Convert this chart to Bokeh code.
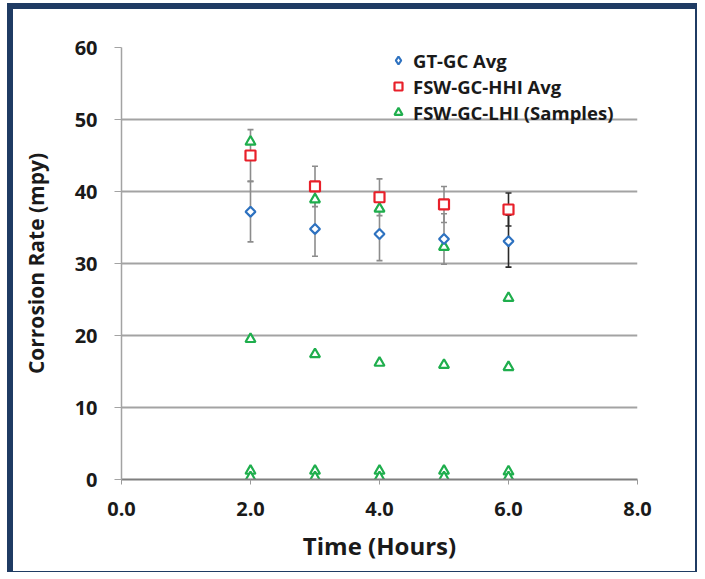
import numpy as np
from bokeh.plotting import figure
from bokeh.models import (ColumnDataSource, FixedTicker, PrintfTickFormatter,
                          Legend, LegendItem, Range1d)
from bokeh.embed import file_html
from bokeh.resources import INLINE

# Exposure time (hours)
hours = [2, 3, 4, 5, 6]

# GT-GC average corrosion rate (mpy) and error half-widths
gt_gc_avg = [37.2, 34.8, 34.1, 33.4, 33.1]
gt_gc_err = [4.2, 3.8, 3.7, 3.5, 3.6]

# FSW-GC-HHI average corrosion rate (mpy) and error half-widths
fsw_hhi_avg = [45.0, 40.7, 39.2, 38.2, 37.5]
fsw_hhi_err = [3.6, 2.8, 2.55, 2.5, 2.3]

# FSW-GC-LHI individual samples (mpy)
lhi_hours = [2, 2, 2, 2,
             3, 3, 3, 3,
             4, 4, 4, 4,
             5, 5, 5, 5,
             6, 6, 6, 6]
lhi_rate = [46.9, 19.5, 1.2, 0.3,
            38.9, 17.4, 1.2, 0.3,
            37.6, 16.2, 1.2, 0.3,
            32.3, 15.9, 1.2, 0.3,
            25.2, 15.6, 1.1, 0.3]

x_ticks = [0, 2, 4, 6, 8]
y_ticks = [0, 10, 20, 30, 40, 50, 60]

# styling
BLUE = "#2e72c0"
RED = "#e8202a"
GREEN = "#1fae4d"
NAVY = "#1f3b63"
FONT = "Open Sans"
TEXT = "#1a1a1a"
errbar_colors = ["#8c8c8c", "#8c8c8c", "#8c8c8c", "#8c8c8c", "#2a2a2a"]

p = figure(width=690, height=569, output_backend="svg", toolbar_location=None,
           x_range=Range1d(0, 8), y_range=Range1d(0, 60),
           min_border_left=108, min_border_right=66,
           min_border_top=38, min_border_bottom=99)
p.styles = {
    "margin-left": "7px", "margin-top": "3px",
    "border-left": f"6px solid {NAVY}", "border-top": f"6px solid {NAVY}",
    "border-right": f"2px solid {NAVY}", "border-bottom": f"1px solid {NAVY}",
}
p.outline_line_color = None
p.background_fill_color = "white"
p.border_fill_color = "white"

# grid
p.xgrid.grid_line_color = None
p.ygrid.grid_line_color = "#a3a3a3"
p.ygrid.grid_line_width = 2
p.ygrid.ticker = FixedTicker(ticks=y_ticks)

# axes
p.xaxis.ticker = FixedTicker(ticks=x_ticks)
p.xaxis.formatter = PrintfTickFormatter(format="%.1f")
p.yaxis.ticker = FixedTicker(ticks=y_ticks)
for ax in (p.xaxis[0], p.yaxis[0]):
    ax.minor_tick_line_color = None
    ax.major_tick_in = 0
    ax.major_label_text_font = FONT
    ax.major_label_text_font_style = "bold"
    ax.major_label_text_font_size = "20px"
    ax.major_label_text_color = TEXT
    ax.axis_label_text_font = FONT
    ax.axis_label_text_font_style = "bold"
    ax.axis_label_text_color = TEXT
p.xaxis.axis_line_color = "#7f7f7f"
p.xaxis.axis_line_width = 2
p.xaxis.major_tick_line_color = "#9a9a9a"
p.xaxis.major_tick_out = 5
p.xaxis.major_label_standoff = 17
p.xaxis.axis_label = "Time (Hours)"
p.xaxis.axis_label_text_font_size = "24px"
p.xaxis.axis_label_standoff = 10
p.yaxis.axis_line_color = "#a3a3a3"
p.yaxis.axis_line_width = 1.5
p.yaxis.major_tick_line_color = "#a3a3a3"
p.yaxis.major_tick_out = 7
p.yaxis.major_label_standoff = 17
p.yaxis.axis_label = "Corrosion Rate (mpy)"
p.yaxis.axis_label_text_font_size = "21px"
p.yaxis.axis_label_standoff = 22

# error bars: stems and caps
gt = np.array(gt_gc_avg)
gte = np.array(gt_gc_err)
hh = np.array(fsw_hhi_avg)
hhe = np.array(fsw_hhi_err)
err_src = ColumnDataSource(dict(
    x=hours + hours,
    lo=list(gt - gte) + list(hh - hhe),
    hi=list(gt + gte) + list(hh + hhe),
    c=errbar_colors + errbar_colors,
))
p.segment(x0="x", y0="lo", x1="x", y1="hi", source=err_src,
          line_color="c", line_width=1.6)
p.scatter(x="x", y="lo", source=err_src, marker="dash", size=6,
          line_color="c", line_width=1.6)
p.scatter(x="x", y="hi", source=err_src, marker="dash", size=6,
          line_color="c", line_width=1.6)

# series markers
r_lhi = p.scatter(lhi_hours, lhi_rate, marker="triangle", size=10,
                  line_color=GREEN, line_width=2.2, fill_color="white")
# GT-GC: a diamond key glyph (used by the legend) under an equal-sided
# rotated square that gives the plotted points their shape
r_gt_key = p.scatter(hours, gt_gc_avg, marker="diamond", size=8,
                     line_color=BLUE, line_width=2.2, fill_color="white")
r_gt = p.scatter(hours, gt_gc_avg, marker="square", angle=np.pi / 4, size=7,
                 line_color=BLUE, line_width=2.2, fill_color="white")
r_hhi = p.scatter(hours, fsw_hhi_avg, marker="square", size=10,
                  line_color=RED, line_width=2.2, fill_color="white")

legend = Legend(items=[
    LegendItem(label="GT-GC Avg", renderers=[r_gt_key]),
    LegendItem(label="FSW-GC-HHI Avg", renderers=[r_hhi]),
    LegendItem(label="FSW-GC-LHI (Samples)", renderers=[r_lhi]),
], location=(267, 354))
legend.border_line_color = None
legend.background_fill_alpha = 0
legend.padding = 0
legend.margin = 0
legend.spacing = 0
legend.label_height = 26
legend.glyph_height = 26
legend.glyph_width = 20
legend.label_standoff = 5
legend.label_text_font = FONT
legend.label_text_font_style = "bold"
legend.label_text_font_size = "18.5px"
legend.label_text_color = TEXT
p.add_layout(legend, "center")

open("out.html", "w").write(file_html(p, INLINE))
